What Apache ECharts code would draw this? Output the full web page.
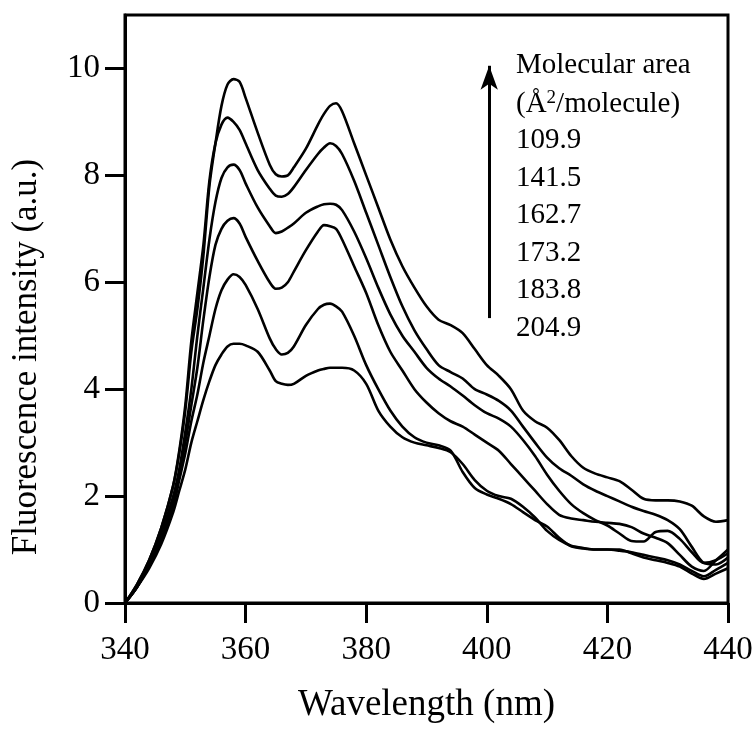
<!DOCTYPE html>
<html><head><meta charset="utf-8">
<script src="https://cdn.jsdelivr.net/npm/echarts@6/dist/echarts.min.js"></script>
<style>html,body{margin:0;padding:0;background:#fff}#c{width:756px;height:729px}</style>
</head><body><div id="c"></div>
<script>
const wavelengths = [340,342,344,346,348,349,350,351,352,353,354,355,356,357,358,359,360,362,364,365,366,367,368,370,372,373,374,375,376,378,380,382,384,386,388,390,392,394,396,398,400,402,404,406,408,410,412,414,416,418,420,422,424,426,428,430,432,434,436,438,440];
const area1099 = [0,0.35,0.8,1.4,2.2,2.8,3.6,4.7,5.5,6.5,7.8,8.6,9.3,9.7,9.8,9.75,9.45,8.8,8.2,8.02,7.98,8.0,8.15,8.5,8.95,9.15,9.3,9.35,9.2,8.6,8.0,7.4,6.8,6.3,5.9,5.55,5.3,5.2,5.05,4.75,4.45,4.25,4.0,3.6,3.4,3.28,3.05,2.75,2.53,2.42,2.35,2.28,2.12,1.95,1.92,1.92,1.9,1.82,1.62,1.52,1.55];
const area1415 = [0,0.35,0.8,1.4,2.2,2.85,3.7,4.9,5.8,6.7,7.9,8.6,8.95,9.08,9.0,8.85,8.6,8.1,7.75,7.62,7.6,7.65,7.78,8.1,8.4,8.52,8.6,8.55,8.4,7.9,7.3,6.7,6.1,5.55,5.1,4.75,4.45,4.32,4.2,4.0,3.9,3.78,3.6,3.3,3.0,2.72,2.52,2.38,2.22,2.1,2.0,1.9,1.8,1.72,1.65,1.55,1.38,1.05,0.75,0.72,0.85];
const area1627 = [0,0.3,0.75,1.3,2.0,2.5,3.2,4.0,5.0,5.9,6.8,7.5,7.95,8.15,8.2,8.1,7.85,7.4,7.05,6.92,6.95,7.02,7.1,7.3,7.42,7.46,7.47,7.45,7.35,6.95,6.45,5.9,5.4,5.0,4.7,4.4,4.2,4.05,3.88,3.7,3.55,3.45,3.3,3.05,2.75,2.4,2.1,1.85,1.68,1.55,1.45,1.3,1.16,1.15,1.33,1.35,1.2,0.95,0.75,0.8,0.93];
const area1732 = [0,0.3,0.7,1.2,1.9,2.4,3.0,3.7,4.4,5.3,6.1,6.7,7.0,7.15,7.2,7.1,6.85,6.4,6.0,5.88,5.9,6.0,6.2,6.6,6.95,7.07,7.05,7.0,6.8,6.3,5.8,5.2,4.7,4.35,4.0,3.75,3.55,3.4,3.3,3.15,3.0,2.85,2.6,2.35,2.1,1.85,1.65,1.58,1.55,1.52,1.5,1.48,1.42,1.3,1.22,1.12,0.9,0.68,0.6,0.8,1.0];
const area1838 = [0,0.3,0.7,1.15,1.8,2.3,2.8,3.4,3.9,4.5,5.0,5.5,5.85,6.05,6.15,6.1,5.95,5.5,4.95,4.75,4.65,4.68,4.8,5.2,5.5,5.58,5.6,5.55,5.45,5.0,4.45,4.0,3.6,3.3,3.1,3.0,2.95,2.85,2.45,2.15,2.03,1.95,1.85,1.7,1.55,1.43,1.22,1.06,1.02,1.0,1.0,0.98,0.95,0.9,0.85,0.8,0.72,0.6,0.5,0.62,0.75];
const area2049 = [0,0.3,0.65,1.1,1.7,2.1,2.5,3.0,3.4,3.8,4.15,4.45,4.65,4.8,4.85,4.85,4.82,4.7,4.35,4.15,4.1,4.08,4.1,4.25,4.35,4.38,4.4,4.4,4.4,4.35,4.1,3.6,3.3,3.1,3.0,2.95,2.9,2.82,2.6,2.3,2.1,2.0,1.95,1.8,1.6,1.35,1.18,1.07,1.03,1.0,1.0,1.0,0.93,0.85,0.8,0.75,0.68,0.55,0.45,0.55,0.65];

const seriesNames = ['109.9','141.5','162.7','173.2','183.8','204.9'];
const seriesValues = [area1099, area1415, area1627, area1732, area1838, area2049];
const xTicks = [340,360,380,400,420,440];
const yTicks = [0,2,4,6,8,10];
const legendTitle = ['Molecular area', '(Å{sup|2}/molecule)'];
const yTitle = 'Fluorescence intensity (a.u.)';
const xTitle = 'Wavelength (nm)';
const arrowX = 400.4, arrowFrom = 5.33, arrowTo = 10.05;

const FONT = '"Liberation Serif", "DejaVu Serif", serif';
const series = seriesValues.map((vals, i) => ({
  name: seriesNames[i],
  type: 'line',
  data: wavelengths.map((w, j) => [w, vals[j]]),
  showSymbol: false,
  smooth: 0.3,
  lineStyle: { color: '#000', width: 2.6 },
  itemStyle: { color: '#000' },
  z: 3,
  markLine: i === 0 ? {
    silent: true,
    symbol: ['none', 'arrow'],
    symbolSize: [13, 24],
    label: { show: false },
    lineStyle: { color: '#000', width: 3, type: 'solid' },
    data: [[{ coord: [arrowX, arrowFrom] }, { coord: [arrowX, arrowTo] }]]
  } : undefined
}));

const legendLines = legendTitle.concat(seriesNames);
const graphics = legendLines.map((t, i) => ({
  type: 'text',
  left: 516,
  top: 51 + i * 37.5,
  style: {
    text: t,
    font: '29px ' + FONT,
    fill: '#000',
    rich: { sup: { font: '19px ' + FONT, fill: '#000', verticalAlign: 'top', padding: [0,0,12,0] } }
  }
}));
graphics.push({
  type: 'text',
  x: 27, y: 357,
  rotation: Math.PI / 2,
  style: { text: yTitle, font: '35px ' + FONT, fill: '#000', align: 'center', verticalAlign: 'middle' }
});

const chart = echarts.init(document.getElementById('c'));
chart.setOption({
  animation: false,
  backgroundColor: '#fff',
  grid: { left: 125, right: 28, top: 15, bottom: 111, show: true, borderColor: '#000', borderWidth: 3, backgroundColor: 'transparent' },
  xAxis: {
    type: 'value', min: 340, max: 440, interval: 20,
    name: xTitle, nameLocation: 'middle', nameGap: 84,
    nameTextStyle: { fontFamily: 'Liberation Serif', fontSize: 37, color: '#000' },
    axisLine: { lineStyle: { color: '#000', width: 3 } },
    axisTick: { length: 20, lineStyle: { color: '#000', width: 3 }, customValues: xTicks },
    axisLabel: { fontFamily: 'Liberation Serif', fontSize: 33, color: '#000', margin: 31, customValues: xTicks },
    splitLine: { show: false }
  },
  yAxis: {
    type: 'value', min: 0, max: 11, interval: 2,
    axisLine: { lineStyle: { color: '#000', width: 3 } },
    axisTick: { length: 20, lineStyle: { color: '#000', width: 3 }, customValues: yTicks },
    axisLabel: { fontFamily: 'Liberation Serif', fontSize: 33, color: '#000', margin: 25, customValues: yTicks },
    splitLine: { show: false }
  },
  series: series,
  graphic: graphics
});
</script></body></html>
